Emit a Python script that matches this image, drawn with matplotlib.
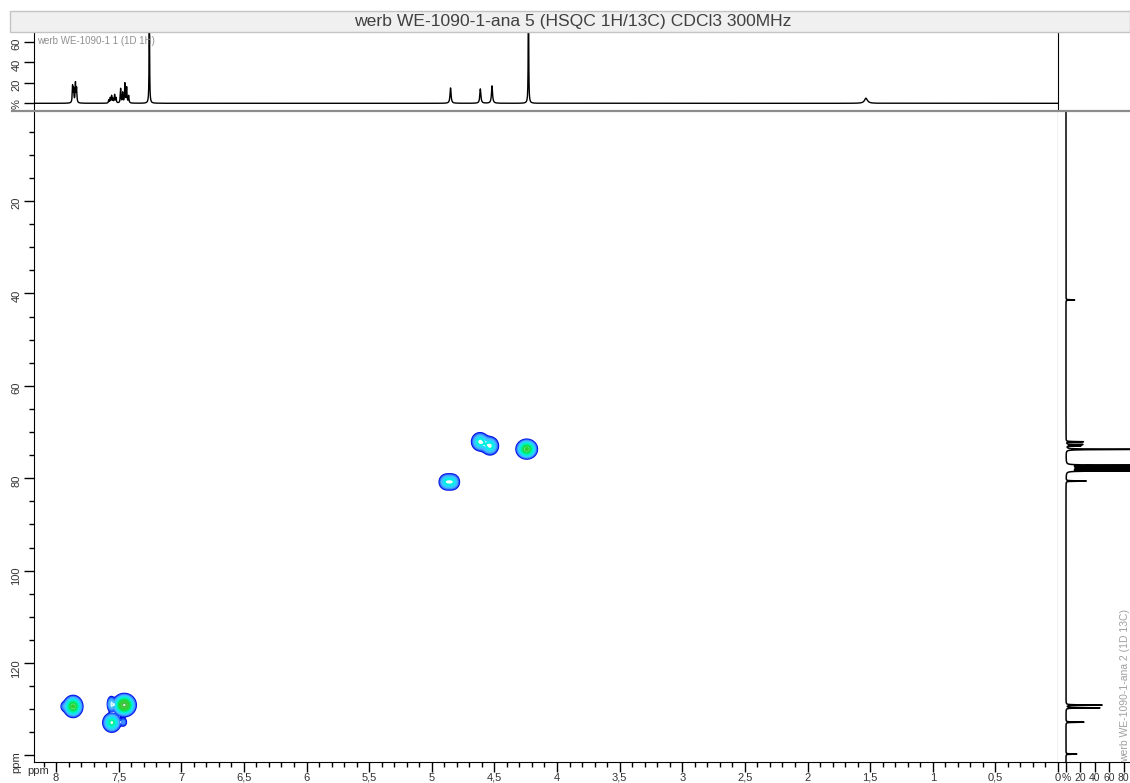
import numpy as np
import matplotlib.pyplot as plt
from matplotlib.ticker import MultipleLocator, FuncFormatter
from matplotlib.patches import Rectangle
from matplotlib.lines import Line2D

plt.rcParams['font.family'] = ['Liberation Sans', 'DejaVu Sans']

# 1H spectrum: peak positions (ppm), heights (%), half widths (ppm)
h1_ppm = [7.868, 7.860, 7.845, 7.836, 7.579, 7.567, 7.556, 7.545, 7.532, 7.521,
          7.484, 7.468, 7.450, 7.436, 7.420, 7.255, 4.850, 4.612, 4.519, 4.228, 1.533]
h1_int = [16, 13, 19, 14, 3, 5, 7, 4, 8, 5,
          14, 10, 19, 15, 7, 120, 15, 14, 17, 130, 5]
h1_hw = [0.003, 0.003, 0.003, 0.003, 0.003, 0.003, 0.003, 0.003, 0.003, 0.003,
         0.003, 0.003, 0.003, 0.003, 0.003, 0.002, 0.005, 0.005, 0.005, 0.002, 0.014]

# 13C spectrum: positions (ppm), heights (%)
c13_ppm = [41.4, 72.1, 72.7, 73.0, 73.75, 77.2, 77.6, 78.0, 78.4, 80.6,
           129.1, 129.7, 132.8, 139.7]
c13_int = [12, 24, 23, 20, 140, 140, 140, 140, 140, 28,
           50, 47, 25, 15]

# HSQC cross peaks: 1H ppm, 13C ppm, relative amplitude, widths
hsqc_h = [7.864, 7.940, 7.560, 7.455, 7.555, 7.462, 4.885, 4.835, 4.615, 4.535, 4.242]
hsqc_c = [129.4, 129.4, 128.9, 129.1, 132.9, 132.8, 80.8, 80.8, 72.1, 73.0, 73.7]
hsqc_amp = [1.0, 0.09, 0.22, 1.4, 0.6, 0.12, 0.35, 0.35, 0.45, 0.45, 1.0]
hsqc_sx = [0.031, 0.013, 0.016, 0.036, 0.031, 0.016, 0.027, 0.027, 0.031, 0.031, 0.034]
hsqc_sy = [0.95, 0.55, 0.9, 0.95, 0.9, 0.55, 0.8, 0.8, 0.9, 0.9, 0.85]

levels = [0.05, 0.075, 0.11, 0.16, 0.24, 0.35, 0.5, 0.7, 0.95, 1.25]
level_colors = ['#0008e0', '#1a4cff', '#3a8cff', '#4ab8ff', '#22d8ff',
                '#00f0e0', '#00f0a0', '#10e050', '#30d030', '#40c040']

W, H = 1130, 783
xl = (8.176, 0.0)
yl = (141.36, 0.45)
tick_col = '#333333'


def fx(px):
    return px / W


def fy(py):
    return 1 - py / H


def lor(x, x0, a, w):
    return a * w ** 2 / ((x - x0) ** 2 + w ** 2)


fig = plt.figure(figsize=(W / 100, H / 100), dpi=100)

# title bar
fig.patches.append(Rectangle((fx(10), fy(32.3)), fx(1130 - 10), 21 / H,
                             transform=fig.transFigure, fc='#f0f0f0', ec='#c4c4c4', lw=1))
fig.text(fx(573), fy(21.5), 'werb WE-1090-1-ana 5 (HSQC 1H/13C) CDCl3 300MHz',
         ha='center', va='center', fontsize=12.6, color='#404040')

# main HSQC axes
ax = fig.add_axes([fx(34), fy(761.7), fx(1058 - 34), (761.7 - 110.7) / H])
xg = np.linspace(0, 8.2, 2000)
yg = np.linspace(0, 142, 1000)
X, Y = np.meshgrid(xg, yg)
Z = np.zeros_like(X)
for h, c, a, sx, sy in zip(hsqc_h, hsqc_c, hsqc_amp, hsqc_sx, hsqc_sy):
    Z += a * np.exp(-((X - h) ** 2 / (2 * sx ** 2) + (Y - c) ** 2 / (2 * sy ** 2)))
ax.contour(X, Y, Z, levels=levels, colors=level_colors, linewidths=1.5)
ax.set_xlim(xl)
ax.set_ylim(yl)
ax.xaxis.set_major_locator(MultipleLocator(0.5))
ax.xaxis.set_minor_locator(MultipleLocator(0.1))
ax.xaxis.set_major_formatter(FuncFormatter(lambda v, p: ('%g' % abs(v)).replace('.', ',')))
ax.set_yticks([20, 40, 60, 80, 100, 120, 140])
ax.set_yticklabels(['20', '40', '60', '80', '100', '120', 'ppm'])
ax.yaxis.set_minor_locator(MultipleLocator(5))
ax.tick_params(which='major', length=7, width=1, labelsize=8, labelcolor=tick_col, pad=1)
ax.tick_params(which='minor', length=3.5, width=1)
ax.tick_params(axis='y', labelrotation=90, pad=2)
ax.spines['top'].set_visible(False)
ax.text(fx(38), fy(771), 'ppm', transform=fig.transFigure, ha='center', va='center',
        fontsize=8, color=tick_col)

# top 1H projection
axt = fig.add_axes([fx(34), fy(110.7), fx(1058 - 34), (110.7 - 33) / H])
xs = np.linspace(0, 8.2, 20000)
spec = np.zeros_like(xs)
for p, a, w in zip(h1_ppm, h1_int, h1_hw):
    spec += lor(xs, p, a, w)
axt.plot(xs, spec, color='black', lw=1)
axt.set_xlim(xl)
axt.set_ylim(-7.2, 68.5)
axt.set_xticks([])
axt.set_yticks([0, 20, 40, 60])
axt.set_yticklabels(['%', '20', '40', '60'])
axt.tick_params(axis='y', length=7, width=1, labelsize=8, labelcolor=tick_col,
                labelrotation=90, pad=2)
axt.spines['top'].set_visible(False)
axt.spines['bottom'].set_visible(False)
axt.text(fx(37), fy(36), 'werb WE-1090-1 1 (1D 1H)', transform=fig.transFigure,
         ha='left', va='top', fontsize=7, color='#909090')

# right 13C projection
axr = fig.add_axes([fx(1058), fy(761.7), fx(W - 1058), (761.7 - 110.7) / H])
ys = np.linspace(0, 142, 40000)
cspec = np.zeros_like(ys)
for p, a in zip(c13_ppm, c13_int):
    cspec += lor(ys, p, a, 0.04)
axr.plot(cspec, ys, color='black', lw=1.1)
axr.set_ylim(yl)
axr.set_xlim(-11.1, 88.9)
axr.set_yticks([])
axr.set_xticks([0, 20, 40, 60, 80])
axr.set_xticklabels(['%', '20', '40', '60', '80'])
axr.tick_params(axis='x', length=7, width=1, labelsize=7.5, labelcolor=tick_col, pad=1)
for s in ['top', 'right', 'left']:
    axr.spines[s].set_visible(False)
axr.text(fx(1125), fy(762), 'werb WE-1090-1-ana 2 (1D 13C)', transform=fig.transFigure,
         rotation=90, ha='center', va='bottom', fontsize=7.5, color='#a0a0a0')

# grey separator under the 1H trace
fig.add_artist(Line2D([fx(12), 1], [fy(110.7), fy(110.7)], color='#8c8c8c', lw=1.6))

fig.savefig('out.png', dpi=100)
